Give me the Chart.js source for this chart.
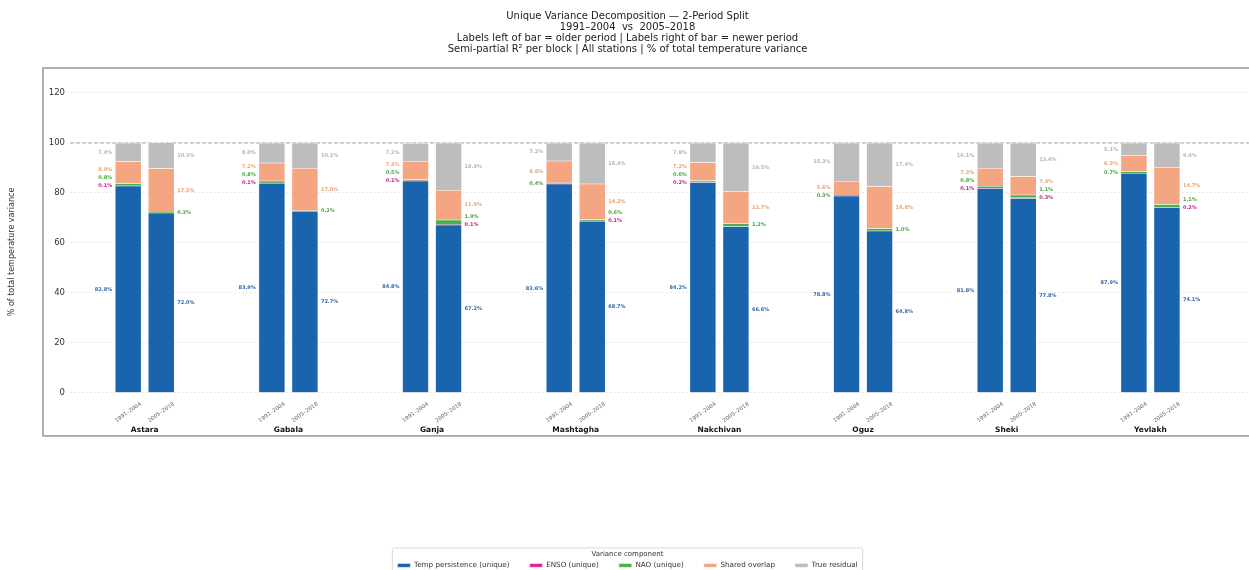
<!DOCTYPE html>
<html>
<head>
<meta charset="utf-8">
<script src="https://cdn.jsdelivr.net/npm/chart.js@4"></script>
<style>
  html, body { margin: 0; padding: 0; background: #fff; overflow: hidden; }
  canvas { display: block; }
</style>
</head>
<body>
<canvas id="c" width="1255" height="579"></canvas>
<script>
// Stations and the two periods compared
const stations = ['Astara', 'Gabala', 'Ganja', 'Mashtagha', 'Nakchivan', 'Oguz', 'Sheki', 'Yevlakh'];
const periods = ['1991–2004', '2005–2018'];

// Semi-partial R² (% of total variance), older period 1991–2004
const tempOld   = [82.8, 83.9, 84.8, 83.6, 84.2, 78.8, 81.8, 87.9];
const ensoOld   = [0.1, 0.1, 0.1, 0.0, 0.2, 0.0, 0.1, 0.0];
const naoOld    = [0.8, 0.8, 0.5, 0.4, 0.6, 0.3, 0.8, 0.7];
const sharedOld = [8.9, 7.2, 7.3, 8.8, 7.2, 5.6, 7.2, 6.3];
const residOld  = [7.4, 8.0, 7.2, 7.2, 7.8, 15.3, 10.1, 5.1];

// Newer period 2005–2018
const tempNew   = [72.0, 72.7, 67.2, 68.7, 66.6, 64.8, 77.8, 74.1];
const ensoNew   = [0.0, 0.0, 0.1, 0.1, 0.0, 0.0, 0.3, 0.2];
const naoNew    = [0.3, 0.2, 1.9, 0.6, 1.2, 1.0, 1.1, 1.1];
const sharedNew = [17.5, 17.0, 11.9, 14.2, 12.7, 16.8, 7.4, 14.7];
const residNew  = [10.3, 10.1, 18.9, 16.4, 19.5, 17.4, 13.4, 9.9];

const yTicks = [0, 20, 40, 60, 80, 100, 120];

const componentNames = ['Temp persistence (unique)', 'ENSO (unique)', 'NAO (unique)', 'Shared overlap', 'True residual'];
const barColors   = ['#1a64ad', '#e0279a', '#4cb048', '#f4a582', '#bdbdbd'];
const labelColors = ['#2f6aa8', '#c8208a', '#45a83e', '#eea070', '#b4b4b4'];
const oldSeries = [tempOld, ensoOld, naoOld, sharedOld, residOld];
const newSeries = [tempNew, ensoNew, naoNew, sharedNew, residNew];

const PERIOD_SHIFT = 0.115;   // bar offset from group centre, in group units
const FONT = "'DejaVu Sans', sans-serif";

function seriesPoints(k) {
  const pts = [];
  stations.forEach((s, i) => {
    pts.push({ x: i - PERIOD_SHIFT, y: oldSeries[k][i] });
    pts.push({ x: i + PERIOD_SHIFT, y: newSeries[k][i] });
  });
  return pts;
}

const datasets = componentNames.map((name, k) => ({
  label: name,
  data: seriesPoints(k),
  backgroundColor: barColors[k],
  borderColor: '#ffffff',
  borderWidth: 0.6,
  borderSkipped: false,
  barThickness: 26
}));

// Dashed reference at 100 %
const refLine = {
  id: 'refLine',
  beforeDatasetsDraw(chart) {
    const { ctx, chartArea, scales } = chart;
    const y = scales.y.getPixelForValue(100);
    ctx.save();
    ctx.strokeStyle = '#a8a8a8';
    ctx.lineWidth = 1;
    ctx.setLineDash([4, 2]);
    ctx.beginPath();
    ctx.moveTo(chartArea.left, y);
    ctx.lineTo(chart.width, y);
    ctx.stroke();
    ctx.restore();
  }
};

// Segment value labels: older bar on the left, newer bar on the right
const segmentLabels = {
  id: 'segmentLabels',
  afterDatasetsDraw(chart) {
    const ctx = chart.ctx;
    const n = stations.length * 2;
    ctx.save();
    ctx.font = 'bold 5px ' + FONT;
    ctx.textBaseline = 'middle';
    for (let j = 0; j < n; j++) {
      const older = j % 2 === 0;
      const items = [];
      for (let k = 0; k < componentNames.length; k++) {
        const el = chart.getDatasetMeta(k).data[j];
        const v = chart.data.datasets[k].data[j].y;
        if (v < 0.05) continue;
        items.push({ k, v, el, mid: (el.y + el.base) / 2 });
      }
      let prev = Infinity;
      items.forEach(it => {
        it.ty = Math.min(it.mid, prev - 8);
        prev = it.ty;
      });
      items.forEach(it => {
        const el = it.el;
        const x = older ? el.x - el.width / 2 - 3 : el.x + el.width / 2 + 3;
        ctx.textAlign = older ? 'right' : 'left';
        ctx.fillStyle = labelColors[it.k];
        ctx.fillText(it.v.toFixed(1) + '%', x, it.ty);
      });
    }
    ctx.restore();
  }
};

// Period labels under each bar and station names under each pair, plus frames
const groupLabels = {
  id: 'groupLabels',
  afterDraw(chart) {
    const { ctx, scales } = chart;
    const xs = scales.x, ys = scales.y;
    ctx.save();
    ctx.fillStyle = '#666';
    ctx.font = '5.5px ' + FONT;
    ctx.textAlign = 'center';
    ctx.textBaseline = 'middle';
    stations.forEach((s, i) => {
      [-PERIOD_SHIFT, PERIOD_SHIFT].forEach((d, p) => {
        const px = xs.getPixelForValue(i + d);
        const py = ys.getPixelForValue(-7.8);
        ctx.save();
        ctx.translate(px, py);
        ctx.rotate(-35 * Math.PI / 180);
        ctx.fillText(periods[p], 0, 0);
        ctx.restore();
      });
    });
    ctx.fillStyle = '#111';
    ctx.font = 'bold 7.5px ' + FONT;
    stations.forEach((s, i) => {
      ctx.fillText(s, xs.getPixelForValue(i), ys.getPixelForValue(-15));
    });

    // plot frame
    ctx.strokeStyle = '#9c9c9c';
    ctx.lineWidth = 1.6;
    const top = ys.getPixelForValue(130), bottom = ys.getPixelForValue(-17.2);
    ctx.strokeRect(43, top, chart.width + 20, bottom - top);

    // legend frame
    const lg = chart.legend;
    if (lg && lg.legendHitBoxes && lg.legendHitBoxes.length) {
      let l = Infinity, r = -Infinity;
      lg.legendHitBoxes.forEach(h => { l = Math.min(l, h.left); r = Math.max(r, h.left + h.width); });
      ctx.strokeStyle = '#d0d0d0';
      ctx.lineWidth = 0.8;
      ctx.beginPath();
      ctx.roundRect(l - 5, lg.top, (r - l) + 10, lg.bottom - lg.top + 4, 2);
      ctx.stroke();
    }
    ctx.restore();
  }
};

new Chart(document.getElementById('c'), {
  type: 'bar',
  data: { datasets },
  options: {
    responsive: false,
    animation: false,
    layout: { padding: 0 },
    scales: {
      x: {
        type: 'linear',
        min: -0.52,
        max: 7.728,
        offset: false,
        stacked: true,
        grid: { display: false },
        border: { display: false },
        ticks: { display: false },
        afterFit(scale) { scale.height = 112; }
      },
      y: {
        stacked: true,
        min: -17.2,
        max: 130,
        afterBuildTicks(scale) { scale.ticks = yTicks.map(v => ({ value: v })); },
        afterFit(scale) { scale.width = 70; },
        ticks: { font: { family: FONT, size: 8.5 }, color: '#333', padding: 5 },
        grid: { color: '#e4e4e4', lineWidth: 0.8, drawTicks: false },
        border: { display: false, dash: [2, 2] },
        title: {
          display: true,
          text: '% of total temperature variance',
          font: { family: FONT, size: 8 },
          color: '#333',
          padding: { top: 7, bottom: 0 }
        }
      }
    },
    plugins: {
      title: {
        display: true,
        text: [
          'Unique Variance Decomposition — 2-Period Split',
          '1991–2004  vs  2005–2018',
          'Labels left of bar = older period | Labels right of bar = newer period',
          'Semi-partial R² per block | All stations | % of total temperature variance'
        ],
        font: { family: FONT, size: 10, weight: 'normal', lineHeight: 1.1 },
        color: '#222',
        padding: { top: 10.5, bottom: 13.5 }
      },
      legend: {
        position: 'bottom',
        title: {
          display: true,
          text: 'Variance component',
          font: { family: FONT, size: 7 },
          color: '#333',
          padding: { top: 3, bottom: -17.5 }
        },
        labels: {
          boxWidth: 13,
          boxHeight: 4,
          padding: 20,
          color: '#333',
          font: { family: FONT, size: 7.2 }
        }
      },
      tooltip: { enabled: false }
    }
  },
  plugins: [refLine, segmentLabels, groupLabels]
});
</script>
</body>
</html>
